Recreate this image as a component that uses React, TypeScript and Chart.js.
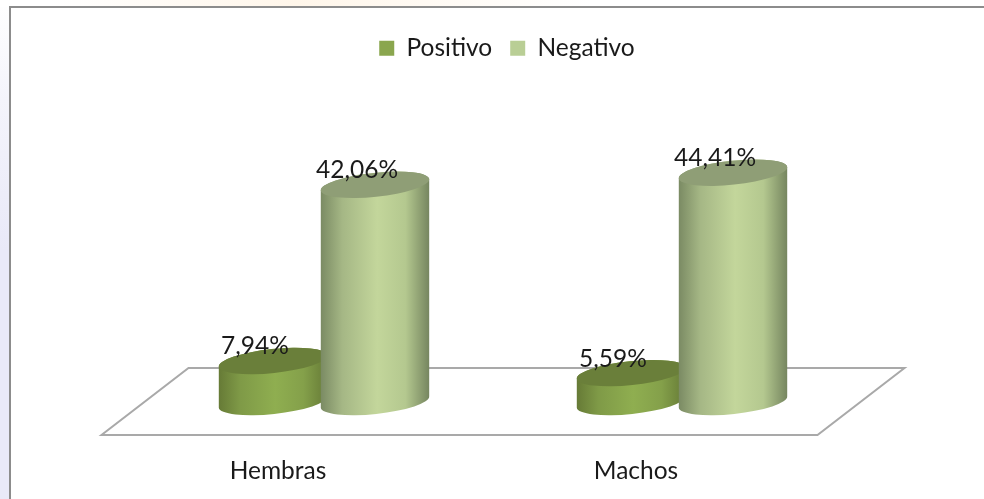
import React, { useEffect, useRef } from "react";
import { Chart, registerables } from "chart.js";

Chart.register(...registerables);

const categories = ["Hembras", "Machos"];
const positivo = [7.94, 5.59];
const negativo = [42.06, 44.41];
const seriesNames = ["Positivo", "Negativo"];
const FONT = "Lato, Carlito, 'Open Sans', sans-serif";
const TILT = (-6 * Math.PI) / 180;
const CAP_RY = 12;

const bodyStops = [
  ["#667a36", "#7f9a47", "#8fae50", "#84a04a", "#667a36"],
  ["#7a8a63", "#a5b785", "#c3d69b", "#b4c88f", "#75855f"],
];
const capColors = ["#6a7f3a", "#8f9e76"];
const swatches = ["#8aa64e", "#b9ce95"];

const cylinders = {
  id: "cylinders",
  beforeDatasetDraw() {
    return false;
  },
  beforeDatasetsDraw(chart: any) {
    const { ctx, chartArea: a } = chart;
    const shift = 43.5;
    const depth = 33.5;
    ctx.save();
    ctx.strokeStyle = "#a9a9a9";
    ctx.lineWidth = 2;
    ctx.lineJoin = "miter";
    ctx.beginPath();
    ctx.moveTo(a.left - shift, a.bottom + depth - 0.5);
    ctx.lineTo(a.right - shift, a.bottom + depth - 0.5);
    ctx.lineTo(a.right + shift, a.bottom - depth - 0.5);
    ctx.lineTo(a.left + shift, a.bottom - depth - 0.5);
    ctx.closePath();
    ctx.stroke();
    ctx.restore();
  },
  afterDatasetsDraw(chart: any) {
    const { ctx } = chart;
    chart.data.datasets.forEach((_: any, di: number) => {
      const meta = chart.getDatasetMeta(di);
      meta.data.forEach((bar: any) => {
        const { x, y, base, width } = bar.getProps(["x", "y", "base", "width"], true);
        const rx = width / 2 + 0.5;
        const g = ctx.createLinearGradient(x - rx, 0, x + rx, 0);
        const s = bodyStops[di];
        g.addColorStop(0, s[0]);
        g.addColorStop(0.2, s[1]);
        g.addColorStop(0.52, s[2]);
        g.addColorStop(0.78, s[3]);
        g.addColorStop(1, s[4]);
        ctx.save();
        ctx.beginPath();
        ctx.ellipse(x, base, rx, CAP_RY, TILT, 0, Math.PI);
        ctx.ellipse(x, y, rx, CAP_RY, TILT, Math.PI, 0, false);
        ctx.closePath();
        ctx.fillStyle = g;
        ctx.fill();
        ctx.beginPath();
        ctx.ellipse(x, y, rx, CAP_RY, TILT, 0, Math.PI * 2);
        ctx.fillStyle = capColors[di];
        ctx.fill();
        ctx.restore();
      });
    });
    chart.data.datasets.forEach((ds: any, di: number) => {
      const meta = chart.getDatasetMeta(di);
      meta.data.forEach((bar: any, i: number) => {
        const { x, y } = bar.getProps(["x", "y"], true);
        ctx.save();
        ctx.font = `24.5px ${FONT}`;
        ctx.fillStyle = "#1a1a1a";
        ctx.textAlign = "center";
        ctx.textBaseline = "middle";
        ctx.fillText(ds.data[i].toFixed(2).replace(".", ",") + "%", x - 18, y - 14.5);
        ctx.restore();
      });
    });
  },
};

export default function App() {
  const ref = useRef<HTMLCanvasElement>(null);

  useEffect(() => {
    document.body.style.margin = "0";
    const chart = new Chart(ref.current as HTMLCanvasElement, {
      type: "bar",
      data: {
        labels: categories,
        datasets: [
          { label: seriesNames[0], data: positivo, backgroundColor: swatches[0] },
          { label: seriesNames[1], data: negativo, backgroundColor: swatches[1] },
        ],
      },
      plugins: [cylinders],
      options: {
        responsive: false,
        animation: false,
        events: [],
        layout: { padding: { top: 18, left: 30, right: 0, bottom: 0 } },
        datasets: { bar: { categoryPercentage: 204 / 358, barPercentage: 108 / 102 } },
        scales: {
          x: {
            grid: { display: false },
            border: { display: false },
            afterFit(s: any) {
              s.height = 97;
            },
            ticks: {
              color: "#1a1a1a",
              font: { family: FONT, size: 24.5 },
              padding: 46,
              labelOffset: -46,
              maxRotation: 0,
            },
          },
          y: {
            min: 0,
            max: 64.2,
            grid: { display: false },
            border: { display: false },
            ticks: { display: false },
            afterFit(s: any) {
              s.width = 115;
            },
          },
          yRight: {
            position: "right",
            grid: { display: false },
            border: { display: false },
            ticks: { display: false },
            afterFit(s: any) {
              s.width = 123;
            },
          },
        },
        plugins: {
          tooltip: { enabled: false },
          legend: {
            position: "top",
            labels: {
              boxWidth: 15,
              boxHeight: 15,
              padding: 18,
              color: "#1a1a1a",
              font: { family: FONT, size: 24.5 },
            },
          },
        },
      } as any,
    });
    return () => chart.destroy();
  }, []);

  return (
    <div
      style={{
        position: "relative",
        width: 984,
        height: 499,
        overflow: "hidden",
        background:
          "linear-gradient(90deg, #ffffff 5%, #fff6ea 30%, #ffffff 60%) top/100% 7px no-repeat, linear-gradient(180deg, #ffffff 0%, #f4f4fb 20%, #e9e9f8 50%, #e9e9f8 100%)",
      }}
    >
      <div
        style={{
          position: "absolute",
          left: 9,
          top: 6,
          right: 0,
          bottom: 0,
          background: "#ffffff",
          borderLeft: "2.5px solid #8c8c8c",
          borderTop: "2.5px solid #8c8c8c",
        }}
      />
      <canvas
        ref={ref}
        width={984}
        height={499}
        style={{ position: "absolute", left: 0, top: 0, filter: "blur(0.4px)" }}
      />
    </div>
  );
}
